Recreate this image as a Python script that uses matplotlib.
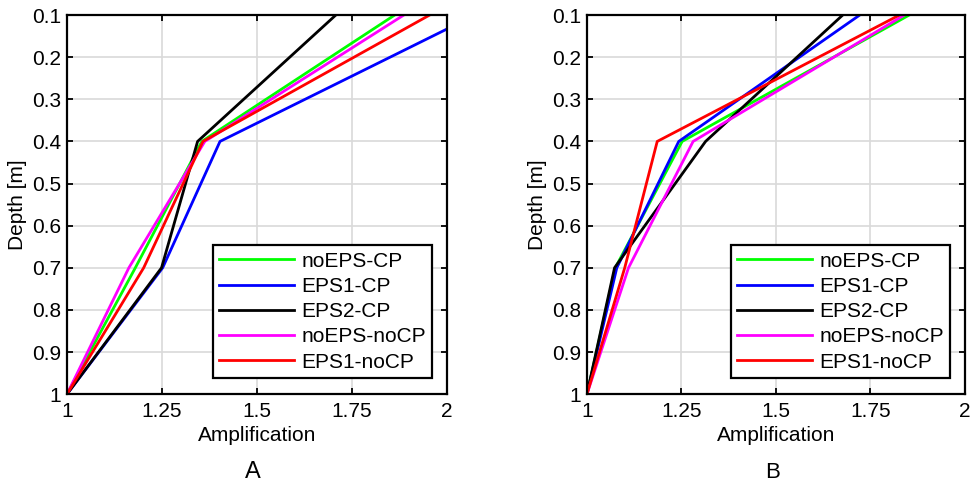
import matplotlib
matplotlib.use("Agg")
import matplotlib.pyplot as plt

plt.rcParams["font.family"] = ["Liberation Sans", "DejaVu Sans"]

# depth points (m) shared by all curves
depths = [1.0, 0.7, 0.4, 0.1]
series_names = ["noEPS-CP", "EPS1-CP", "EPS2-CP", "noEPS-noCP", "EPS1-noCP"]
series_colors = ["#00ff00", "#0000ff", "#000000", "#ff00ff", "#ff0000"]

# panel A amplification
amp_a_noeps_cp = [1.0, 1.180, 1.355, 1.863]
amp_a_eps1_cp = [1.0, 1.252, 1.403, 2.075]
amp_a_eps2_cp = [1.0, 1.249, 1.344, 1.708]
amp_a_noeps_nocp = [1.0, 1.163, 1.363, 1.887]
amp_a_eps1_nocp = [1.0, 1.202, 1.358, 1.955]

# panel B amplification
amp_b_noeps_cp = [1.0, 1.075, 1.252, 1.853]
amp_b_eps1_cp = [1.0, 1.079, 1.243, 1.722]
amp_b_eps2_cp = [1.0, 1.073, 1.314, 1.677]
amp_b_noeps_nocp = [1.0, 1.110, 1.281, 1.840]
amp_b_eps1_nocp = [1.0, 1.100, 1.186, 1.827]

x_ticks = [1, 1.25, 1.5, 1.75, 2]
x_ticklabels = ["1", "1.25", "1.5", "1.75", "2"]
y_ticks = [0.1, 0.2, 0.3, 0.4, 0.5, 0.6, 0.7, 0.8, 0.9, 1.0]
y_ticklabels = ["0.1", "0.2", "0.3", "0.4", "0.5", "0.6", "0.7", "0.8", "0.9", "1"]


def draw_panel(ax, curves):
    for vals, name, col in zip(curves, series_names, series_colors):
        ax.plot(vals, depths, color=col, lw=2.0, label=name)
    ax.set_xlim(1, 2)
    ax.set_ylim(1, 0.1)
    ax.set_xticks(x_ticks)
    ax.set_xticklabels(x_ticklabels)
    ax.set_yticks(y_ticks)
    ax.set_yticklabels(y_ticklabels)
    ax.grid(True, color="#d9d9d9", lw=1.2)
    ax.set_axisbelow(True)
    ax.tick_params(direction="in", length=4, width=1.3, top=True, right=True,
                   labelsize=15, colors="black")
    ax.tick_params(axis="x", pad=6)
    ax.tick_params(axis="y", pad=4)
    for sp in ax.spines.values():
        sp.set_linewidth(1.6)
    ax.set_xlabel("Amplification", fontsize=15, labelpad=3)
    ax.set_ylabel("Depth [m]", fontsize=15, labelpad=4)
    leg = ax.legend(loc="lower right", bbox_to_anchor=(0.962, 0.043),
                    fontsize=15, handlelength=3.6, handletextpad=0.35,
                    labelspacing=0.3, borderpad=0.3, borderaxespad=0,
                    fancybox=False, framealpha=1, edgecolor="black")
    leg.get_frame().set_linewidth(1.6)


fig = plt.figure(figsize=(9.71, 4.86), dpi=100)
ax_a = fig.add_axes([0.069, 0.189, 0.391, 0.780])
ax_b = fig.add_axes([0.6045, 0.189, 0.389, 0.780])

draw_panel(ax_a, [amp_a_noeps_cp, amp_a_eps1_cp, amp_a_eps2_cp,
                  amp_a_noeps_nocp, amp_a_eps1_nocp])
draw_panel(ax_b, [amp_b_noeps_cp, amp_b_eps1_cp, amp_b_eps2_cp,
                  amp_b_noeps_nocp, amp_b_eps1_nocp])

fig.text(253 / 971, 1 - 472 / 486, "A", fontsize=17, ha="center", va="center")
fig.text(773 / 971, 1 - 472 / 486, "B", fontsize=16, ha="center", va="center")

fig.savefig("out.png", dpi=100)
